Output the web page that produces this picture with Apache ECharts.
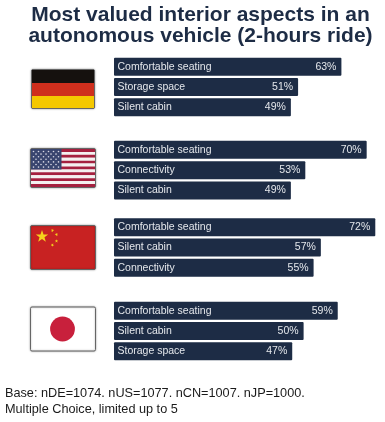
<!DOCTYPE html>
<html>
<head>
<meta charset="utf-8">
<style>
    html, body { margin: 0; padding: 0; background: #fff; }
    #chart { width: 385px; height: 422px; }
</style>
</head>
<body>
<div id="chart"></div>
<script src="https://cdn.jsdelivr.net/npm/echarts@6/dist/echarts.min.js"></script>
<script>
var labelsDE = ['Comfortable seating', 'Storage space', 'Silent cabin'];
var valuesDE = [63, 51, 49];
var labelsUS = ['Comfortable seating', 'Connectivity', 'Silent cabin'];
var valuesUS = [70, 53, 49];
var labelsCN = ['Comfortable seating', 'Silent cabin', 'Connectivity'];
var valuesCN = [72, 57, 55];
var labelsJP = ['Comfortable seating', 'Silent cabin', 'Storage space'];
var valuesJP = [59, 50, 47];

var FONT = '"Liberation Sans", Arial, sans-serif';
var NAVY = '#1d2c45';

// each panel has its own x scale, the Japan bars are drawn a bit longer in the original
var panels = [
    {labels: labelsDE, values: valuesDE, top: 56.5, max: 74.8},
    {labels: labelsUS, values: valuesUS, top: 139.7, max: 74.8},
    {labels: labelsCN, values: valuesCN, top: 217, max: 74.4},
    {labels: labelsJP, values: valuesJP, top: 300.5, max: 71.2}
];

function star(cx, cy, r, rot) {
    var pts = [];
    for (var i = 0; i < 10; i++) {
        var rad = i % 2 ? r * 0.4 : r;
        var a = rot + i * Math.PI / 5 - Math.PI / 2;
        pts.push([cx + rad * Math.cos(a), cy + rad * Math.sin(a)]);
    }
    return {type: 'polygon', z: 5, shape: {points: pts}, style: {fill: '#f6d21c'}};
}

function rect(x, y, w, h, fill) {
    return {type: 'rect', z: 5, shape: {x: x, y: y, width: w, height: h}, style: {fill: fill}};
}

// flag frame with the soft grey edge
function frame(x, y, w, h, fill) {
    return {
        type: 'rect', z: 4,
        shape: {x: x, y: y, width: w, height: h, r: 1.5},
        style: {fill: fill, stroke: '#666', lineWidth: 1, shadowBlur: 2, shadowColor: 'rgba(0,0,0,0.35)'}
    };
}

var flags = [];

// Germany
flags.push(frame(31.5, 69.5, 63, 39, '#000'));
flags.push(rect(32, 70, 62, 13, '#15110e'));
flags.push(rect(32, 83, 62, 13, '#cf2f1d'));
flags.push(rect(32, 96, 62, 12, '#f5c800'));

// USA
flags.push(frame(30.5, 148.5, 65, 39, '#fff'));
for (var s = 0; s < 13; s++) {
    flags.push(rect(31, 149 + s * 2.92, 64, 2.92, s % 2 ? '#f4f0f0' : '#a5203f'));
}
flags.push(rect(31, 149, 30.5, 20.5, '#39456f'));
for (var r = 0; r < 7; r++) {
    for (var c = 0; c < (r % 2 ? 5 : 6); c++) {
        flags.push({
            type: 'circle', z: 6,
            shape: {cx: 33.5 + (r % 2 ? 2.5 : 0) + c * 5, cy: 151.5 + r * 2.6, r: 0.8},
            style: {fill: '#d8d8e4'}
        });
    }
}

// China
flags.push(frame(30.5, 225.5, 65, 44, '#c82222'));
flags.push(star(42, 236.5, 6.5, 0));
flags.push(star(52.5, 230.5, 1.8, 0.4));
flags.push(star(56.5, 234.5, 1.8, 0.9));
flags.push(star(56.5, 241, 1.8, 0));
flags.push(star(52.5, 245, 1.8, 0.4));

// Japan
flags.push(frame(30.5, 307, 65, 44, '#fff'));
flags.push({type: 'circle', z: 5, shape: {cx: 62.5, cy: 329, r: 12.4}, style: {fill: '#c8203c'}});

var option = {
    animation: false,
    backgroundColor: '#fff',
    title: [
        {
            text: 'Most valued interior aspects in an\nautonomous vehicle (2-hours ride)',
            left: 195.5, top: -1, textAlign: 'center',
            textStyle: {fontFamily: FONT, fontSize: 21, fontWeight: 'bold', color: NAVY, lineHeight: 21.5}
        },
        {
            text: 'Base: nDE=1074. nUS=1077. nCN=1007. nJP=1000.\nMultiple Choice, limited up to 5',
            left: 0, top: 380,
            textStyle: {fontFamily: FONT, fontSize: 12.7, fontWeight: 'normal', color: '#1a1a1a', lineHeight: 16}
        }
    ],
    grid: panels.map(function (p) {
        return {left: 114, width: 270, top: p.top, height: 61};
    }),
    xAxis: panels.map(function (p, i) {
        return {type: 'value', gridIndex: i, min: 0, max: p.max, show: false};
    }),
    yAxis: panels.map(function (p, i) {
        return {
            type: 'category',
            gridIndex: i,
            inverse: true,
            data: p.labels,
            z: 5,
            axisLine: {show: false},
            axisTick: {show: false},
            axisLabel: {inside: true, margin: 3.5, color: '#e4e7eb', fontFamily: FONT, fontSize: 10.5}
        };
    }),
    series: panels.map(function (p, i) {
        return {
            type: 'bar',
            xAxisIndex: i,
            yAxisIndex: i,
            barWidth: 18,
            data: p.values,
            itemStyle: {color: NAVY, borderRadius: 1},
            label: {
                show: true,
                position: 'insideRight',
                distance: 5,
                formatter: '{c}%',
                color: '#e4e7eb',
                fontFamily: FONT,
                fontSize: 10.5
            }
        };
    }),
    graphic: flags
};

var myChart = echarts.init(document.getElementById('chart'));
myChart.setOption(option);
</script>
</body>
</html>
